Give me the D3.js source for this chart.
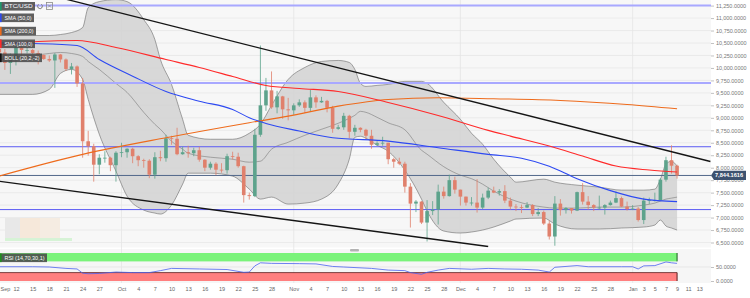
<!DOCTYPE html>
<html>
<head>
<meta charset="utf-8">
<script src="https://cdn.jsdelivr.net/npm/d3@7"></script>
<style>
  body { margin: 0; background: #fff; }
  svg { display: block; font-family: "Liberation Sans", Arial, sans-serif; }
</style>
</head>
<body>
<div id="chart"></div>
<script>
// daily BTC/USD candles, Sep 9 2019 - Jan 9 2020
const dates = [
  "2019-09-09","2019-09-10","2019-09-11","2019-09-12","2019-09-13","2019-09-14","2019-09-15","2019-09-16","2019-09-17","2019-09-18","2019-09-19",
  "2019-09-20","2019-09-21","2019-09-22","2019-09-23","2019-09-24","2019-09-25","2019-09-26","2019-09-27","2019-09-28","2019-09-29","2019-09-30",
  "2019-10-01","2019-10-02","2019-10-03","2019-10-04","2019-10-05","2019-10-06","2019-10-07","2019-10-08","2019-10-09","2019-10-10","2019-10-11",
  "2019-10-12","2019-10-13","2019-10-14","2019-10-15","2019-10-16","2019-10-17","2019-10-18","2019-10-19","2019-10-20","2019-10-21","2019-10-22",
  "2019-10-23","2019-10-24","2019-10-25","2019-10-26","2019-10-27","2019-10-28","2019-10-29","2019-10-30","2019-10-31",
  "2019-11-01","2019-11-02","2019-11-03","2019-11-04","2019-11-05","2019-11-06","2019-11-07","2019-11-08","2019-11-09","2019-11-10","2019-11-11",
  "2019-11-12","2019-11-13","2019-11-14","2019-11-15","2019-11-16","2019-11-17","2019-11-18","2019-11-19","2019-11-20","2019-11-21","2019-11-22",
  "2019-11-23","2019-11-24","2019-11-25","2019-11-26","2019-11-27","2019-11-28","2019-11-29","2019-11-30",
  "2019-12-01","2019-12-02","2019-12-03","2019-12-04","2019-12-05","2019-12-06","2019-12-07","2019-12-08","2019-12-09","2019-12-10","2019-12-11",
  "2019-12-12","2019-12-13","2019-12-14","2019-12-15","2019-12-16","2019-12-17","2019-12-18","2019-12-19","2019-12-20","2019-12-21","2019-12-22",
  "2019-12-23","2019-12-24","2019-12-25","2019-12-26","2019-12-27","2019-12-28","2019-12-29","2019-12-30","2019-12-31",
  "2020-01-01","2020-01-02","2020-01-03","2020-01-04","2020-01-05","2020-01-06","2020-01-07","2020-01-08","2020-01-09"
];
const open = [
  10380,10310,10100,10160,10410,10360,10360,10300,10260,10180,10150,10270,10170,9980,10030,9690,8530,8430,8060,8200,8200,8050,
  8300,8310,8380,8230,8150,8140,7860,8210,8190,8590,8580,8270,8310,8290,8350,8160,8000,8080,7960,7950,8230,8220,8030,7450,7430,8660,9250,9550,9210,9430,9170,
  9150,9250,9310,9200,9410,9310,9340,9200,8780,8810,9040,8720,8800,8760,8640,8460,8490,8500,8170,8120,8080,7620,7280,7320,6900,7130,7160,7520,7430,7750,
  7560,7420,7300,7300,7200,7400,7540,7500,7530,7340,7220,7210,7200,7250,7070,7110,6880,6620,7280,7150,7190,7140,7510,7320,7250,7200,7200,7250,7300,7390,7220,
  7170,7180,6950,7340,7350,7350,7760,8150,8040
];
const high = [
  10480,10380,10290,10450,10440,10420,10380,10350,10270,10250,10300,10280,10190,10100,10050,9800,8740,8480,8270,8330,8220,8330,
  8500,8390,8400,8250,8180,8170,8310,8340,8660,8640,8800,8420,8440,8400,8420,8170,8120,8110,8090,8280,8320,8300,8040,7500,8780,10450,9800,9930,9540,9440,9400,
  9290,9370,9350,9560,9450,9420,9360,9240,8860,9100,9060,8860,8810,8780,8760,8530,8620,8500,8200,8200,8120,7690,7350,7330,7350,7330,7660,7620,7860,7820,
  7560,7420,7410,7770,7480,7600,7620,7570,7650,7400,7270,7260,7310,7270,7190,7140,6940,7430,7370,7210,7190,7520,7690,7430,7270,7440,7270,7340,7520,7420,7320,
  7250,7210,7400,7400,7500,7790,8220,8450,8060
];
const low = [
  10080,9960,9880,10050,10170,10290,10270,10070,10160,10120,9600,10110,9940,9870,9620,8200,8240,7720,7870,8100,7930,7720,
  8210,8200,8090,8030,8000,7790,7780,8130,8120,8460,8250,8260,8200,8230,8120,7930,7960,7850,7900,7880,8160,8000,7300,7360,7410,8620,9140,9180,9090,8980,8950,
  9060,9220,9100,9120,9200,9300,9110,8700,8760,8760,8590,8640,8710,8570,8380,8440,8440,8070,8000,8050,7500,6800,7110,6870,6520,7050,6860,7380,7420,7480,
  7240,7240,7240,7100,7170,7370,7490,7440,7290,7160,7130,7090,7190,7030,7030,6850,6560,6435,7040,7080,7080,7130,7260,7160,7130,7160,7060,7240,7290,7210,7140,
  7150,6920,6870,7270,7320,7340,7720,7880,7780
];
const close = [
  10310,10100,10160,10410,10360,10360,10300,10260,10180,10150,10270,10170,9980,10030,9690,8530,8430,8060,8200,8200,8050,8300,
  8310,8380,8230,8150,8140,7860,8210,8190,8590,8580,8270,8310,8290,8350,8160,8000,8080,7960,7950,8230,8220,8030,7450,7430,8660,9250,9550,9210,9430,9170,9150,
  9250,9310,9200,9410,9310,9340,9200,8780,8810,9040,8720,8800,8760,8640,8460,8490,8500,8170,8120,8080,7620,7280,7320,6900,7130,7160,7520,7430,7750,7560,
  7420,7300,7300,7200,7400,7540,7500,7530,7340,7220,7210,7200,7250,7070,7110,6880,6620,7280,7150,7190,7140,7510,7320,7250,7200,7200,7250,7300,7390,7220,7170,
  7180,6950,7340,7350,7350,7760,8150,8040,7844.1616
];

// moving averages
const sma50Dates = ["2019-09-09","2019-09-15","2019-09-23","2019-09-27","2019-10-03","2019-10-09","2019-10-15","2019-10-21","2019-10-24","2019-10-27",
  "2019-11-02","2019-11-08","2019-11-18","2019-11-27","2019-12-06","2019-12-12","2019-12-17","2019-12-22","2019-12-28","2020-01-03","2020-01-09"];
const sma50 = [10503,10489,10449,10169,9835,9528,9334,9168,9002,8888,8734,8601,8533,8401,8267,8190,8030,7780,7540,7370,7320];

const sma100Dates = ["2019-09-09","2019-09-16","2019-09-23","2019-09-30","2019-10-09","2019-10-15","2019-10-21","2019-10-27","2019-11-02","2019-11-09",
  "2019-11-18","2019-11-27","2019-12-06","2019-12-10","2019-12-17","2019-12-23","2019-12-29","2020-01-04","2020-01-09"];
const sma100 = [10469,10529,10549,10409,10169,10009,9829,9648,9588,9528,9308,9048,8748,8633,8433,8233,8033,7953,7913];

const sma200Dates = ["2019-09-09","2019-09-24","2019-10-09","2019-10-24","2019-10-31","2019-11-09","2019-11-18","2019-11-27","2019-12-07","2019-12-19","2019-12-31","2020-01-09"];
const sma200 = [7833,8267,8601,8902,9034,9234,9368,9402,9382,9348,9268,9182];

// bollinger (20,2)
const bbDates = ["2019-09-09","2019-09-15","2019-09-18","2019-09-20","2019-09-22","2019-09-24","2019-09-25","2019-09-27","2019-09-30","2019-10-02",
  "2019-10-05","2019-10-07","2019-10-08","2019-10-10","2019-10-12","2019-10-13","2019-10-17","2019-10-21","2019-10-24","2019-10-26","2019-10-28",
  "2019-10-31","2019-11-03","2019-11-06","2019-11-09","2019-11-11","2019-11-12","2019-11-13","2019-11-14","2019-11-16","2019-11-18","2019-11-21",
  "2019-11-24","2019-11-25","2019-11-28","2019-12-01","2019-12-03","2019-12-05","2019-12-07","2019-12-10","2019-12-11","2019-12-16","2019-12-18",
  "2019-12-22","2019-12-26","2019-12-30","2020-01-03","2020-01-05","2020-01-06","2020-01-07","2020-01-08","2020-01-09"];
const bbUpper = [10650,10650,10650,10670,10710,10810,11210,11330,11370,11330,10970,10570,10170,9670,8970,8650,8570,8570,8690,8870,9250,
  9770,10010,10130,10150,10110,9970,9690,9630,9650,9670,9730,9730,9690,9310,8970,8690,8470,8170,7810,7710,7770,7710,7650,7610,7550,7550,7570,7770,8070,8130,8030];
const bbMiddle = [10170,10250,10290,10310,10290,10230,10130,9970,9690,9510,9110,8870,8770,8530,8370,8290,8210,8170,8110,8130,8370,
  8510,8650,8770,8890,8990,9050,9130,9110,9010,8900,8760,8350,8270,8020,7850,7780,7670,7530,7370,7330,7210,7190,7190,7210,7210,7250,7290,7330,7370,7390,7410];
const bbLower = [9470,9470,9570,9890,9970,9770,9370,8670,7930,7430,7150,7090,7070,7250,7670,7890,7890,7830,7570,7370,7410,
  7270,7290,7370,7670,8170,8610,8630,8590,8450,8330,7950,7370,7130,6730,6690,6710,6750,6810,6930,6970,6990,6870,6770,6770,6790,6810,6850,6950,6830,6790,6750];

// trend lines [date, price]
const trendUpper = [["2019-09-09", 11715], ["2020-01-15", 8124]];
const trendLower = [["2019-09-09", 7728], ["2019-12-06", 6420]];
const majorLevels = [11250, 9700];
const minorLevels = [8420, 7160];
const lastPrice = 7844.1616;

// RSI (14)
const rsiDates = ["2019-09-09","2019-09-15","2019-09-18","2019-09-21","2019-09-23","2019-09-24","2019-09-25","2019-09-27","2019-09-30","2019-10-03",
  "2019-10-06","2019-10-08","2019-10-10","2019-10-15","2019-10-20","2019-10-23","2019-10-24","2019-10-25","2019-10-26","2019-10-28","2019-11-02",
  "2019-11-05","2019-11-08","2019-11-10","2019-11-15","2019-11-18","2019-11-21","2019-11-22","2019-11-24","2019-11-25","2019-11-27","2019-11-29",
  "2019-12-03","2019-12-06","2019-12-09","2019-12-12","2019-12-15","2019-12-17","2019-12-18","2019-12-22","2019-12-24","2019-12-30","2020-01-01",
  "2020-01-02","2020-01-03","2020-01-05","2020-01-07","2020-01-08","2020-01-09"];
const rsi = [51,51,50,45,43,28,26,27,32,30,30,37,45,43,41,31,32,54,65,63,62,61,52,50,45,39,37,30,24,31,39,45,
  42,45,43,42,39,32,49,55,51,51,51,43,54,55,68,65,63];

const priceTicks = [6500,6750,7000,7250,7500,7750,8000,8250,8500,8750,9000,9250,9500,9750,10000,10250,10500,10750,11000,11250];
const rsiTicks = [0, 50];
const xTicks = [["2019-09-10","Sep"],["2019-09-12","12"],["2019-09-15","15"],["2019-09-18","18"],["2019-09-21","21"],["2019-09-24","24"],["2019-09-27","27"],
  ["2019-10-01","Oct"],["2019-10-04","4"],["2019-10-07","7"],["2019-10-10","10"],["2019-10-13","13"],["2019-10-16","16"],["2019-10-19","19"],["2019-10-22","22"],["2019-10-25","25"],["2019-10-28","28"],
  ["2019-11-01","Nov"],["2019-11-04","4"],["2019-11-07","7"],["2019-11-10","10"],["2019-11-13","13"],["2019-11-16","16"],["2019-11-19","19"],["2019-11-22","22"],["2019-11-25","25"],["2019-11-28","28"],
  ["2019-12-01","Dec"],["2019-12-04","4"],["2019-12-07","7"],["2019-12-10","10"],["2019-12-13","13"],["2019-12-16","16"],["2019-12-19","19"],["2019-12-22","22"],["2019-12-25","25"],["2019-12-28","28"],
  ["2020-01-01","Jan"],["2020-01-03","3"],["2020-01-05","5"],["2020-01-07","7"],["2020-01-09","9"],["2020-01-11","11"],["2020-01-13","13"]];
const monthStarts = ["2019-10-01","2019-11-01","2019-12-01","2020-01-01"];

const parse = d3.timeParse("%Y-%m-%d");
const W = 750, H = 298;
const plotRight = 711, plotBottom = 247.5, rsiTop = 249, rsiBottom = 283;

const svg = d3.select("#chart").append("svg").attr("width", W).attr("height", H);

const x = d3.scaleTime().domain([parse("2019-09-09"), parse("2020-01-15")]).range([-0.7, 710.4]);
const y = d3.scaleLinear().domain([6500, 11250]).range([242.5, 5.6]);
const yR = d3.scaleLinear().domain([0, 100]).range([281, 253]);

const candles = dates.map((d, i) => ({date: parse(d), o: open[i], h: high[i], l: low[i], c: close[i]}));
const lastX = x(parse(dates[dates.length - 1]));

// panels
svg.append("rect").attr("x", 0).attr("y", 0).attr("width", plotRight).attr("height", plotBottom).attr("fill", "#f7f7f7");
svg.append("rect").attr("x", 0).attr("y", rsiTop).attr("width", plotRight).attr("height", rsiBottom - rsiTop).attr("fill", "#f6f6f6");

const defs = svg.append("defs");
defs.append("clipPath").attr("id", "clipMain").append("rect").attr("x", 0).attr("y", 0).attr("width", plotRight).attr("height", plotBottom);
defs.append("clipPath").attr("id", "clipRsi").append("rect").attr("x", 0).attr("y", rsiTop).attr("width", plotRight).attr("height", rsiBottom - rsiTop);

// grid
svg.append("g").selectAll("line").data(priceTicks).join("line")
  .attr("x1", 0).attr("x2", plotRight).attr("y1", d => y(d)).attr("y2", d => y(d))
  .attr("stroke", "#e7e7e7").attr("stroke-width", 0.8);
svg.append("g").selectAll("line").data(monthStarts).join("line")
  .attr("x1", d => x(parse(d))).attr("x2", d => x(parse(d)))
  .attr("y1", 0).attr("y2", rsiBottom)
  .attr("stroke", "#e5e5e5").attr("stroke-width", 0.8);
svg.append("line").attr("x1", 0).attr("x2", plotRight).attr("y1", yR(50)).attr("y2", yR(50)).attr("stroke", "#e7e7e7");

const main = svg.append("g").attr("clip-path", "url(#clipMain)");

// minimap leftovers bottom-left
main.append("rect").attr("x", 5).attr("y", 218).attr("width", 15).attr("height", 20).attr("fill", "#e8e8e8");
main.append("rect").attr("x", 20).attr("y", 218).attr("width", 20).attr("height", 20).attr("fill", "#f6e8da");
main.append("rect").attr("x", 40).attr("y", 218).attr("width", 20).attr("height", 20).attr("fill", "#f5ece2");
main.append("rect").attr("x", 5).attr("y", 238).attr("width", 67).attr("height", 3).attr("fill", "#d6f3d6");

// bollinger band
const bb = bbDates.map((d, i) => ({date: parse(d), u: bbUpper[i], m: bbMiddle[i], l: bbLower[i]}));
const curve = d3.curveMonotoneX;
main.append("path").datum(bb)
  .attr("d", d3.area().x(d => x(d.date)).y0(d => y(d.l)).y1(d => y(d.u)).curve(curve))
  .attr("fill", "#d4d4d4").attr("fill-opacity", 0.9);
["u", "l"].forEach(k => {
  main.append("path").datum(bb)
    .attr("d", d3.line().x(d => x(d.date)).y(d => y(d[k])).curve(curve))
    .attr("fill", "none").attr("stroke", "#6a6a6a").attr("stroke-width", 0.6);
});
main.append("path").datum(bb)
  .attr("d", d3.line().x(d => x(d.date)).y(d => y(d.m)).curve(curve))
  .attr("fill", "none").attr("stroke", "#7a7a7a").attr("stroke-width", 0.6);

// horizontal levels
main.selectAll(".major").data(majorLevels).join("line")
  .attr("x1", 0).attr("x2", plotRight).attr("y1", d => y(d)).attr("y2", d => y(d))
  .attr("stroke", "#a8a8ff").attr("stroke-width", 2);
main.selectAll(".minor").data(minorLevels).join("line")
  .attr("x1", 0).attr("x2", plotRight).attr("y1", d => y(d)).attr("y2", d => y(d))
  .attr("stroke", "#5b5bf3").attr("stroke-width", 1);
main.append("line").attr("x1", 0).attr("x2", plotRight).attr("y1", y(lastPrice)).attr("y2", y(lastPrice))
  .attr("stroke", "#52688a").attr("stroke-width", 1);

// candles
const up = "#5da38c", down = "#e0806c";
const cw = 3.6;
const cg = main.append("g");
cg.selectAll("line").data(candles).join("line")
  .attr("x1", d => x(d.date)).attr("x2", d => x(d.date))
  .attr("y1", d => y(d.h)).attr("y2", d => y(d.l))
  .attr("stroke", d => d.c >= d.o ? up : down).attr("stroke-width", 0.8);
cg.selectAll("rect").data(candles).join("rect")
  .attr("x", d => x(d.date) - cw / 2).attr("width", cw)
  .attr("y", d => y(Math.max(d.o, d.c)))
  .attr("height", d => Math.max(0.8, Math.abs(y(d.o) - y(d.c))))
  .attr("fill", d => d.c >= d.o ? up : down);

// moving averages
const maLine = d3.line().x(d => x(d[0])).y(d => y(d[1])).curve(d3.curveMonotoneX);
[[sma200Dates, sma200, "#ee6b1c"], [sma100Dates, sma100, "#ff2a2a"], [sma50Dates, sma50, "#2d49f2"]].forEach(([ds, vs, col]) => {
  main.append("path").datum(ds.map((d, i) => [parse(d), vs[i]]))
    .attr("d", maLine).attr("fill", "none").attr("stroke", col).attr("stroke-width", 1.1);
});

// trend lines
[trendUpper, trendLower].forEach(t => {
  main.append("line")
    .attr("x1", x(parse(t[0][0]))).attr("y1", y(t[0][1]))
    .attr("x2", x(parse(t[1][0]))).attr("y2", y(t[1][1]))
    .attr("stroke", "#151515").attr("stroke-width", 1.3);
});

// scroll handle
svg.append("rect").attr("x", 350).attr("y", 249).attr("width", 9).attr("height", 2.5).attr("rx", 1).attr("fill", "#b3b3b3");

// RSI panel
const rg = svg.append("g").attr("clip-path", "url(#clipRsi)");
rg.append("rect").attr("x", 0).attr("y", yR(100)).attr("width", lastX).attr("height", yR(70) - yR(100)).attr("fill", "#7af37a");
rg.append("rect").attr("x", 0).attr("y", yR(30)).attr("width", lastX).attr("height", yR(0) - yR(30)).attr("fill", "#ff7f7f");
rg.append("line").attr("x1", 0).attr("x2", lastX).attr("y1", yR(30)).attr("y2", yR(30)).attr("stroke", "#5a2020").attr("stroke-width", 0.8);
rg.append("line").attr("x1", lastX).attr("x2", lastX).attr("y1", yR(100)).attr("y2", yR(70)).attr("stroke", "#1c5a1c").attr("stroke-width", 1);
rg.append("line").attr("x1", lastX).attr("x2", lastX).attr("y1", yR(30)).attr("y2", yR(0)).attr("stroke", "#5a1c1c").attr("stroke-width", 1);
rg.append("path").datum(rsiDates.map((d, i) => [parse(d), rsi[i]]))
  .attr("d", d3.line().x(d => x(d[0])).y(d => yR(d[1])))
  .attr("fill", "none").attr("stroke", "#4a62f0").attr("stroke-width", 0.8);

// right axes
const yAxis = svg.append("g").attr("transform", `translate(${plotRight},0)`)
  .call(d3.axisRight(y).tickValues(priceTicks).tickFormat(d3.format(",.4f")).tickSize(3).tickPadding(2));
const rAxis = svg.append("g").attr("transform", `translate(${plotRight},0)`)
  .call(d3.axisRight(yR).tickValues(rsiTicks).tickFormat(d3.format(".4f")).tickSize(3).tickPadding(2));
[yAxis, rAxis].forEach(a => {
  a.select(".domain").remove();
  a.selectAll("line").attr("stroke", "#999").attr("stroke-width", 0.6);
  a.selectAll("text").attr("fill", "#777").style("font-size", "5.5px");
});

// last price tag
const ly = y(lastPrice);
svg.append("path")
  .attr("d", `M${plotRight},${ly} L${plotRight + 3},${ly - 4.6} L${plotRight + 35},${ly - 4.6} L${plotRight + 35},${ly + 4.6} L${plotRight + 3},${ly + 4.6} Z`)
  .attr("fill", "#3d5270");
svg.append("text").attr("x", plotRight + 4).attr("y", ly + 2)
  .attr("fill", "#fff").style("font-size", "5.6px").style("font-weight", "bold")
  .text(d3.format(",.4f")(lastPrice));

// bottom axis
const xAxis = svg.append("g").attr("transform", `translate(0,${rsiBottom})`)
  .call(d3.axisBottom(x).tickValues(xTicks.map(t => parse(t[0])))
    .tickFormat((d, i) => xTicks[i][1]).tickSize(0).tickPadding(4));
xAxis.select(".domain").remove();
xAxis.selectAll("text").attr("fill", "#666").style("font-size", "5.5px");

// legend boxes
const legend = [["BTC/USD", "#1f9a6c", 2, 35], ["SMA (50,0)", "#2d49f2", 13.5, 34], ["SMA (200,0)", "#ee6b1c", 26.8, 36],
  ["SMA (100,0)", "#ff2a2a", 39.5, 35], ["BOLL (20,2,-2)", "#111", 53.5, 42], ["RSI (14,70,30,1)", "#1f8f1f", 253.5, 47]];
legend.forEach(([label, col, ly0, w]) => {
  svg.append("rect").attr("x", 0).attr("y", ly0).attr("width", w).attr("height", 8.6).attr("fill", "#4a4a4a").attr("fill-opacity", 0.88);
  svg.append("rect").attr("x", 0).attr("y", ly0).attr("width", 1.6).attr("height", 8.6).attr("fill", col);
  svg.append("text").attr("x", 4.5).attr("y", ly0 + 6.3).attr("fill", "#fff").style("font-size", "6px")
    .attr("textLength", w - 7).attr("lengthAdjust", "spacingAndGlyphs").text(label);
});
// little toolbar icons beside the symbol
const ic = svg.append("g").attr("fill", "none").attr("stroke", "#8a8a8a").attr("stroke-width", 0.8);
ic.append("path").attr("d", d3.arc()({innerRadius: 2.4, outerRadius: 2.4, startAngle: 0.6, endAngle: 5.6})).attr("transform", "translate(40,6.2)");
ic.append("rect").attr("x", 46.5).attr("y", 2.5).attr("width", 6).attr("height", 7);
ic.append("path").attr("d", "M48,4.5 L51,7.5 M51,4.5 L48,7.5");
</script>
</body>
</html>
